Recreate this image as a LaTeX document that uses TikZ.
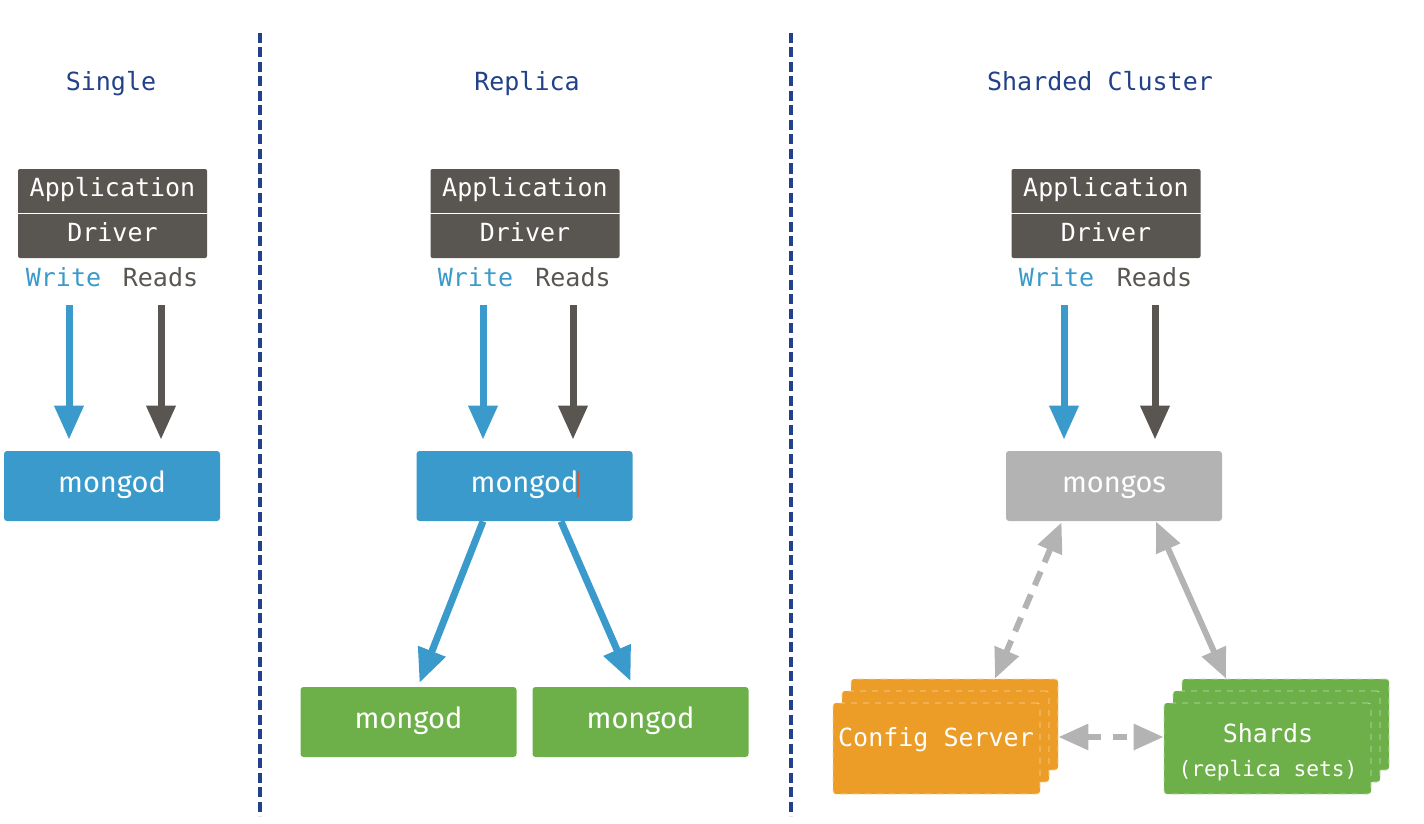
\documentclass[tikz,border=0pt]{standalone}
\usepackage{fontspec}
\setmainfont{Fira Sans}
\setmonofont{DejaVu Sans Mono}
\usetikzlibrary{arrows.meta,positioning}

\definecolor{appgray}{HTML}{595652}
\definecolor{mblue}{HTML}{3A9ACB}
\definecolor{mgreen}{HTML}{6DB04A}
\definecolor{morange}{HTML}{EC9D28}
\definecolor{mgray}{HTML}{B3B3B3}
\definecolor{titleblue}{HTML}{22418A}
\definecolor{cursorred}{HTML}{D2572A}

\tikzset{
  title/.style={font=\ttfamily\fontsize{12.5}{14}\selectfont, text=titleblue, anchor=base},
  appbox/.style={fill=appgray, rounded corners=1pt, minimum width=94.5pt, minimum height=44.5pt, inner sep=0pt},
  apptext/.style={font=\ttfamily\fontsize{12.5}{14}\selectfont, text=white, anchor=base},
  rwlabel/.style={font=\ttfamily\fontsize{12.5}{14}\selectfont, anchor=base},
  dbbox/.style={rounded corners=1.5pt, minimum width=108pt, minimum height=35pt, inner sep=0pt, text=white, text height=0.85em, text depth=0.18em, font=\fontsize{14.5}{16}\selectfont},
  stackbox/.style={rounded corners=1.5pt, minimum width=103.5pt, minimum height=45.5pt, inner sep=0pt, dashed, line width=0.4pt},
  stacktext/.style={font=\ttfamily\fontsize{12.5}{14}\selectfont, text=white, anchor=base},
  bigarrow/.style={line width=3.5pt, -{Triangle[width=14pt,length=17pt]}},
  grayarrow/.style={line width=3pt, draw=mgray, {Triangle[width=12.5pt,length=15pt]}-{Triangle[width=12.5pt,length=15pt]}},
  separator/.style={draw=titleblue, line width=2pt, dash pattern=on 5pt off 2.25pt},
}

\begin{document}
\begin{tikzpicture}[x=0.5pt,y=-0.5pt]
\useasboundingbox (0,0) rectangle (1424,824);

% separators
\draw[separator] (260,33) -- (260,816);
\draw[separator] (791,33) -- (791,816);

%%% Single
\node[title] (t1) at (111,91) {Single};
\node[appbox] (app1) at (112.5,213.5) {};
\draw[white, line width=0.5pt] (app1.west) -- (app1.east);
\node[apptext] (a1) at (112.5,196) {Application};
\node[apptext] (d1) at (112.5,241) {Driver};
\node[rwlabel, text=mblue] (w1) at (63.5,286) {Write};
\node[rwlabel, text=appgray] (r1) at (160.5,286) {Reads};
\node[dbbox, fill=mblue] (m1) at (112,486) {mongod};
\coordinate (w1s) at (69,305);
\coordinate (r1s) at (161,305);
\draw[bigarrow, draw=mblue, shorten >=5.5pt] (w1s) -- (w1s |- m1.north);
\draw[bigarrow, draw=appgray, shorten >=5.5pt] (r1s) -- (r1s |- m1.north);

%%% Replica
\node[title] (t2) at (527,91) {Replica};
\node[appbox] (app2) at (525,213.5) {};
\draw[white, line width=0.5pt] (app2.west) -- (app2.east);
\node[apptext] (a2) at (525,196) {Application};
\node[apptext] (d2) at (525,241) {Driver};
\node[rwlabel, text=mblue] (w2) at (475.5,286) {Write};
\node[rwlabel, text=appgray] (r2) at (573,286) {Reads};
\node[dbbox, fill=mblue] (m2) at (524.5,486) {mongod};
\draw[cursorred, line width=1pt] (578,471) -- (578,497);
\node[dbbox, fill=mgreen] (g1) at (408.5,722) {mongod};
\node[dbbox, fill=mgreen] (g2) at (640.5,722) {mongod};
\coordinate (w2s) at (483,305);
\coordinate (r2s) at (573,305);
\draw[bigarrow, draw=mblue, shorten >=5.5pt] (w2s) -- (w2s |- m2.north);
\draw[bigarrow, draw=appgray, shorten >=5.5pt] (r2s) -- (r2s |- m2.north);
\draw[bigarrow, draw=mblue, shorten >=2pt] ([xshift=-20.75pt]m2.south) -- ([xshift=4.75pt]g1.north);
\draw[bigarrow, draw=mblue, shorten >=3pt] ([xshift=18.25pt]m2.south) -- ([xshift=-3.75pt]g2.north);

%%% Sharded Cluster
\node[title] (t3) at (1100,91) {Sharded Cluster};
\node[appbox] (app3) at (1106,213.5) {};
\draw[white, line width=0.5pt] (app3.west) -- (app3.east);
\node[apptext] (a3) at (1106,196) {Application};
\node[apptext] (d3) at (1106,241) {Driver};
\node[rwlabel, text=mblue] (w3) at (1056.5,286) {Write};
\node[rwlabel, text=appgray] (r3) at (1154.5,286) {Reads};
\node[dbbox, fill=mgray] (ms) at (1114,486) {mongos};
\coordinate (w3s) at (1064,305);
\coordinate (r3s) at (1155,305);
\draw[bigarrow, draw=mblue, shorten >=5.5pt] (w3s) -- (w3s |- ms.north);
\draw[bigarrow, draw=appgray, shorten >=5.5pt] (r3s) -- (r3s |- ms.north);

% config server stack
\node[stackbox, fill=morange, draw=white!55!morange] (cfg3) at (954.5,724.5) {};
\node[stackbox, fill=morange, draw=white!55!morange] (cfg2) at (945.5,736.5) {};
\node[stackbox, fill=morange, draw=white!55!morange] (cfg) at (936.5,748.5) {};
\node[stacktext] (cfgtxt) at (936,746) {Config Server};

% shards stack
\node[stackbox, fill=mgreen, draw=white!55!mgreen] (shd3) at (1285.5,724.5) {};
\node[stackbox, fill=mgreen, draw=white!55!mgreen] (shd2) at (1276.5,736.5) {};
\node[stackbox, fill=mgreen, draw=white!55!mgreen] (shd) at (1267.5,748.5) {};
\node[stacktext] (shdtxt) at (1268,742) {Shards};
\node[stacktext, font=\ttfamily\fontsize{10.6}{12}\selectfont] (shdsub) at (1268,776) {(replica sets)};
\coordinate (midy) at (1110,737);

\draw[grayarrow, dash pattern=on 7.5pt off 5pt, shorten <=0.5pt] ([xshift=-26pt]ms.south) -- ([xshift=20.25pt]cfg3.north);
\draw[grayarrow] ([xshift=21pt]ms.south) -- ([xshift=-29.75pt]shd3.north);
\draw[grayarrow, dash pattern=on 7pt off 6pt] (cfg3.east |- midy) -- (shd.west |- midy);

\end{tikzpicture}
\end{document}
